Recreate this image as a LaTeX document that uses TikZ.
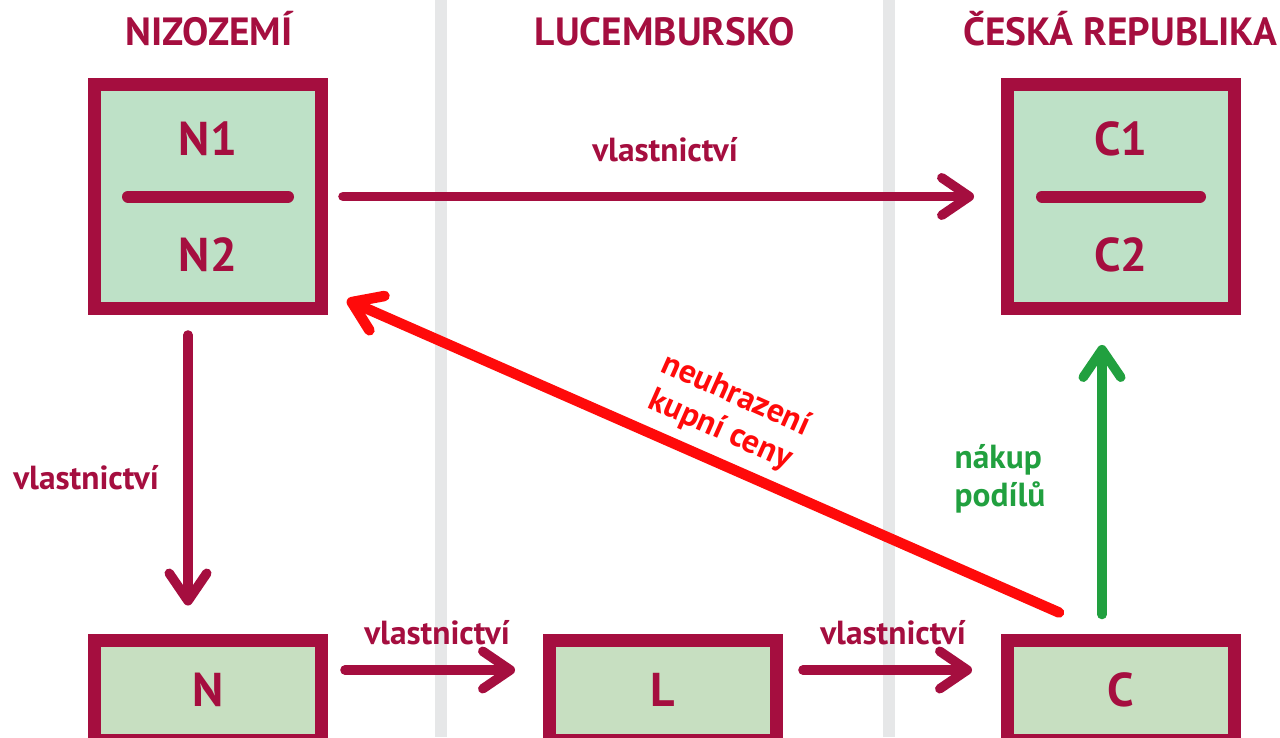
\documentclass[tikz,border=0pt]{standalone}
\usepackage{fontspec}
\setmainfont{PT Sans}
\usetikzlibrary{arrows.meta,calc}

\definecolor{vino}{HTML}{A50E3F}
\definecolor{cervena}{HTML}{FF0A0A}
\definecolor{zelena}{HTML}{21A03F}
\definecolor{seda}{HTML}{E6E7E8}
\definecolor{svetla}{HTML}{BEE1C7}
\definecolor{dolnizel}{HTML}{C7DFC1}

\tikzset{
  hranice/.style={seda, line width=0.24cm},
  horni/.style={draw=vino, fill=svetla, line width=0.26cm, minimum width=4.54cm, minimum height=4.48cm, inner sep=0},
  dolni/.style={draw=vino, fill=dolnizel, line width=0.26cm, minimum width=4.54cm, minimum height=2cm, inner sep=0, text=vino, font=\fontsize{27}{30}\selectfont\bfseries},
  stat/.style={text=vino, font=\fontsize{22.4}{26}\selectfont\bfseries, anchor=base},
  jmeno/.style={text=vino, font=\fontsize{27}{30}\selectfont\bfseries, anchor=base},
  popis/.style={text=vino, font=\fontsize{19}{21.6}\selectfont\bfseries},
  cara/.style={vino, line width=0.24cm, line cap=round},
  sipka/.style={vino, line width=0.19cm, line cap=round, -{Straight Barb[length=0.55cm,width=0.75cm,round]}},
}

\begin{document}
\begin{tikzpicture}[x=0.02cm, y=-0.02cm]
\useasboundingbox[fill=white] (0,0) rectangle (1280,737);
% hranice statu
\draw[hranice] (441,0) -- (441,737);
\draw[hranice] (889,0) -- (889,737);

% staty
\node[stat] (nizozemi) at (209,45) {NIZOZEMÍ};
\node[stat] (lucembursko) at (665,45) {LUCEMBURSKO};
\node[stat] (cesko) at (1120,45) {ČESKÁ REPUBLIKA};

% horni spolecnosti
\node[horni] (nl) at (208,196.5) {};
\draw[cara] (nl.center) ++(-80,0) -- ++(160,0);
\node[jmeno] (n1) at (208,155) {N1};
\node[jmeno] (n2) at (208,271) {N2};

\node[horni] (cz) at (1121,196.5) {};
\draw[cara] (cz.center) ++(-79,0) -- ++(158,0);
\node[jmeno] (c1) at (1121,155) {C1};
\node[jmeno] (c2) at (1121,271) {C2};

% dolni spolecnosti
\node[dolni] (n) at (208,690) {N};
\node[dolni] (l) at (663,690) {L};
\node[dolni] (c) at (1121,690) {C};

% vlastnictvi
\draw[sipka] ($(nl.east)+(15,0)$) -- ($(cz.west)+(-27,0)$);
\draw[sipka] ($(nl.south)+(-20,20)$) -- ($(n.north)+(-20,-28)$);
\draw[sipka] ($(n.east)+(17,-20)$) -- ($(l.west)+(-28,-20)$);
\draw[sipka] ($(l.east)+(20,-20)$) -- ($(c.west)+(-29,-20)$);
\node[popis] (v1) at (665,150) {vlastnictví};
\node[popis] (v2) at (86,478) {vlastnictví};
\node[popis] (v3) at (437,633) {vlastnictví};
\node[popis] (v4) at (893,633) {vlastnictví};

% kupni cena a podily
\draw[sipka, cervena, line width=0.21cm] ($(c.north west)+(58,-21)$) -- ($(nl.south east)+(19,-15)$);
\node[popis, text=cervena, rotate=-24, align=center] (neuhrazeni) at (728,413) {neuhrazení\\kupní ceny};
\draw[sipka, zelena] ($(c.north)+(-19,-19)$) -- ($(cz.south)+(-19,30)$);
\node[popis, text=zelena, align=left] (nakup) at (1000,479) {nákup\\podílů};
\end{tikzpicture}
\end{document}
